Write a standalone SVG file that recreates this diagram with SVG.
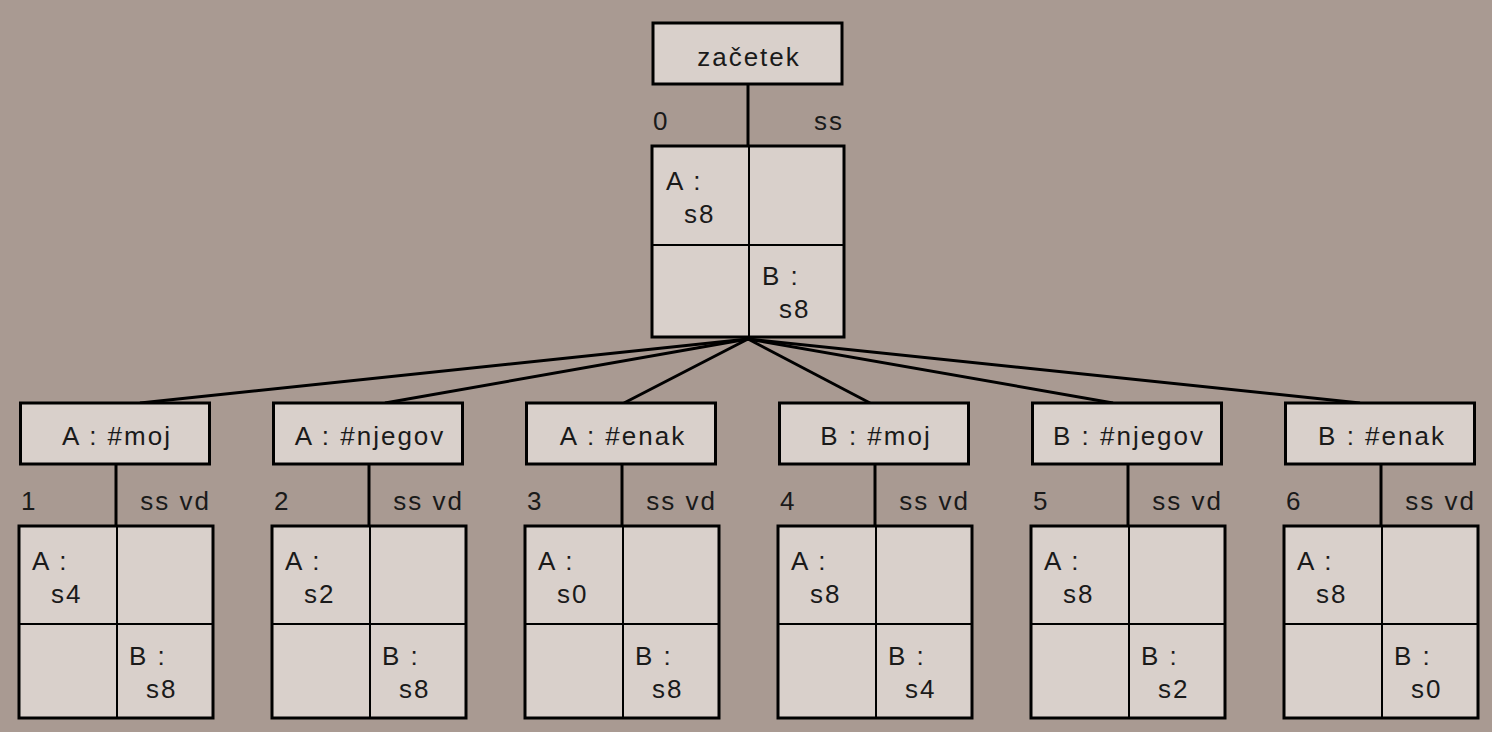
<svg xmlns="http://www.w3.org/2000/svg" width="1492" height="732" viewBox="0 0 1492 732">
<style>
.bg{fill:#a99a92}
.box{fill:#d9d0cb;stroke:#000;stroke-width:3}
.div{stroke:#000;stroke-width:2;fill:none}
.con{stroke:#000;stroke-width:3;fill:none}
text{font-family:"Liberation Sans",Arial,sans-serif;font-size:26px;fill:#1a1a1a;letter-spacing:2px}
.mid{text-anchor:middle}
.end{text-anchor:end}
</style>
<rect class="bg" x="0" y="0" width="1492" height="732"/>
<g id="connectors">
<line class="con" x1="748" y1="84" x2="748" y2="146"/>
<line class="con" x1="748" y1="339" x2="140" y2="403"/>
<line class="con" x1="748" y1="339" x2="385" y2="403"/>
<line class="con" x1="748" y1="339" x2="624" y2="403"/>
<line class="con" x1="748" y1="339" x2="870" y2="403"/>
<line class="con" x1="748" y1="339" x2="1113" y2="403"/>
<line class="con" x1="748" y1="339" x2="1360" y2="403"/>
<line class="con" x1="116" y1="464" x2="116" y2="526"/>
<line class="con" x1="369" y1="464" x2="369" y2="526"/>
<line class="con" x1="622" y1="464" x2="622" y2="526"/>
<line class="con" x1="875" y1="464" x2="875" y2="526"/>
<line class="con" x1="1128" y1="464" x2="1128" y2="526"/>
<line class="con" x1="1381" y1="464" x2="1381" y2="526"/>
</g>
<g id="start">
<rect class="box" x="653" y="23" width="189" height="61"/>
<text class="mid" x="749" y="66">začetek</text>
</g>
<g id="state0">
<text x="653" y="130">0</text>
<text class="end" x="844" y="130">ss</text>
<rect class="box" x="652" y="146" width="192" height="191"/>
<line class="div" x1="749" y1="146" x2="749" y2="337"/>
<line class="div" x1="652" y1="245" x2="844" y2="245"/>
<text x="666" y="190">A :</text>
<text x="684" y="223">s8</text>
<text x="762" y="285">B :</text>
<text x="779" y="318">s8</text>
</g>
<g id="move1">
<rect class="box" x="20.5" y="403" width="189" height="61"/>
<text class="mid" x="117" y="445">A : #moj</text>
</g>
<g id="state1">
<text x="21" y="510">1</text>
<text class="end" x="211" y="510">ss vd</text>
<rect class="box" x="19" y="526" width="194" height="192"/>
<line class="div" x1="117" y1="526" x2="117" y2="718"/>
<line class="div" x1="19" y1="624" x2="213" y2="624"/>
<text x="32" y="570">A :</text>
<text x="51" y="603">s4</text>
<text x="129" y="665">B :</text>
<text x="146" y="698">s8</text>
</g>
<g id="move2">
<rect class="box" x="273.5" y="403" width="189" height="61"/>
<text class="mid" x="370" y="445">A : #njegov</text>
</g>
<g id="state2">
<text x="274" y="510">2</text>
<text class="end" x="464" y="510">ss vd</text>
<rect class="box" x="272" y="526" width="194" height="192"/>
<line class="div" x1="370" y1="526" x2="370" y2="718"/>
<line class="div" x1="272" y1="624" x2="466" y2="624"/>
<text x="285" y="570">A :</text>
<text x="304" y="603">s2</text>
<text x="382" y="665">B :</text>
<text x="399" y="698">s8</text>
</g>
<g id="move3">
<rect class="box" x="526.5" y="403" width="189" height="61"/>
<text class="mid" x="623" y="445">A : #enak</text>
</g>
<g id="state3">
<text x="527" y="510">3</text>
<text class="end" x="717" y="510">ss vd</text>
<rect class="box" x="525" y="526" width="194" height="192"/>
<line class="div" x1="623" y1="526" x2="623" y2="718"/>
<line class="div" x1="525" y1="624" x2="719" y2="624"/>
<text x="538" y="570">A :</text>
<text x="557" y="603">s0</text>
<text x="635" y="665">B :</text>
<text x="652" y="698">s8</text>
</g>
<g id="move4">
<rect class="box" x="779.5" y="403" width="189" height="61"/>
<text class="mid" x="876" y="445">B : #moj</text>
</g>
<g id="state4">
<text x="780" y="510">4</text>
<text class="end" x="970" y="510">ss vd</text>
<rect class="box" x="778" y="526" width="194" height="192"/>
<line class="div" x1="876" y1="526" x2="876" y2="718"/>
<line class="div" x1="778" y1="624" x2="972" y2="624"/>
<text x="791" y="570">A :</text>
<text x="810" y="603">s8</text>
<text x="888" y="665">B :</text>
<text x="905" y="698">s4</text>
</g>
<g id="move5">
<rect class="box" x="1032.5" y="403" width="189" height="61"/>
<text class="mid" x="1129" y="445">B : #njegov</text>
</g>
<g id="state5">
<text x="1033" y="510">5</text>
<text class="end" x="1223" y="510">ss vd</text>
<rect class="box" x="1031" y="526" width="194" height="192"/>
<line class="div" x1="1129" y1="526" x2="1129" y2="718"/>
<line class="div" x1="1031" y1="624" x2="1225" y2="624"/>
<text x="1044" y="570">A :</text>
<text x="1063" y="603">s8</text>
<text x="1141" y="665">B :</text>
<text x="1158" y="698">s2</text>
</g>
<g id="move6">
<rect class="box" x="1285.5" y="403" width="189" height="61"/>
<text class="mid" x="1382" y="445">B : #enak</text>
</g>
<g id="state6">
<text x="1286" y="510">6</text>
<text class="end" x="1476" y="510">ss vd</text>
<rect class="box" x="1284" y="526" width="194" height="192"/>
<line class="div" x1="1382" y1="526" x2="1382" y2="718"/>
<line class="div" x1="1284" y1="624" x2="1478" y2="624"/>
<text x="1297" y="570">A :</text>
<text x="1316" y="603">s8</text>
<text x="1394" y="665">B :</text>
<text x="1411" y="698">s0</text>
</g>
</svg>
